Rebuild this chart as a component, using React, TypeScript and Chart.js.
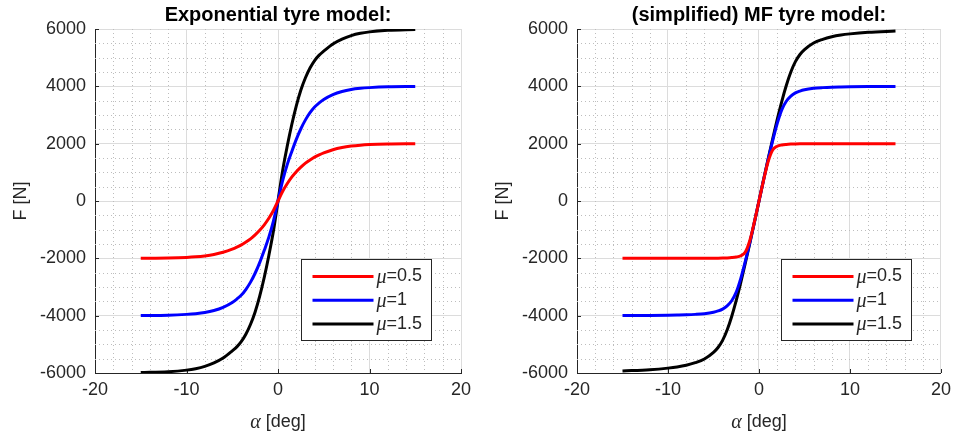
import React, { useEffect, useRef } from "react";
import { Chart, registerables } from "chart.js";

Chart.register(...registerables);

// slip angle samples [deg]
const ALPHA = [-15, -12, -10, -9, -8, -7, -6, -5, -4.5, -4, -3.5, -3, -2.5, -2, -1.5, -1, -0.5, 0,
  0.5, 1, 1.5, 2, 2.5, 3, 3.5, 4, 4.5, 5, 6, 7, 8, 9, 10, 12, 15];

// Exponential tyre model
const EXP_MU05 = [-1998, -1988, -1968, -1948, -1915, -1865, -1790, -1680, -1610, -1530, -1430, -1320, -1180, -1020, -830, -600, -330, 0,
  330, 600, 830, 1020, 1180, 1320, 1430, 1530, 1610, 1680, 1790, 1865, 1915, 1948, 1968, 1988, 1998];
const EXP_MU1 = [-3997, -3985, -3955, -3930, -3890, -3820, -3710, -3540, -3420, -3280, -3080, -2830, -2520, -2150, -1720, -1260, -700, 0,
  700, 1260, 1720, 2150, 2520, 2830, 3080, 3280, 3420, 3540, 3710, 3820, 3890, 3930, 3955, 3985, 3997];
const EXP_MU15 = [-5985, -5955, -5900, -5850, -5770, -5650, -5480, -5230, -5090, -4900, -4640, -4300, -3870, -3320, -2660, -1900, -1050, 0,
  1050, 1900, 2660, 3320, 3870, 4300, 4640, 4900, 5090, 5230, 5480, 5650, 5770, 5850, 5900, 5955, 5985];

// (simplified) MF tyre model
const MF_MU05 = [-2000, -2000, -2000, -2000, -1999, -1998, -1997, -1995, -1993, -1990, -1985, -1975, -1955, -1910, -1780, -1370, -720, 0,
  720, 1370, 1780, 1910, 1955, 1975, 1985, 1990, 1993, 1995, 1997, 1998, 1999, 2000, 2000, 2000, 2000];
const MF_MU1 = [-3997, -3992, -3984, -3978, -3970, -3955, -3930, -3880, -3835, -3770, -3660, -3480, -3180, -2700, -2100, -1440, -730, 0,
  730, 1440, 2100, 2700, 3180, 3480, 3660, 3770, 3835, 3880, 3930, 3955, 3970, 3978, 3984, 3992, 3997];
const MF_MU15 = [-5930, -5885, -5830, -5790, -5730, -5640, -5510, -5280, -5110, -4860, -4500, -4030, -3470, -2840, -2160, -1460, -740, 0,
  740, 1460, 2160, 2840, 3470, 4030, 4500, 4860, 5110, 5280, 5510, 5640, 5730, 5790, 5830, 5885, 5930];

const MU_LABELS = ["0.5", "1", "1.5"];
const COLORS = ["#ff0000", "#0000ff", "#000000"];
const TITLES = ["Exponential tyre model:", "(simplified) MF tyre model:"];

const X_MIN = -20, X_MAX = 20, X_MAJOR = 10, X_MINOR = 2;
const Y_MIN = -6000, Y_MAX = 6000, Y_MAJOR = 2000, Y_MINOR = 500;

const SANS = '"Liberation Sans", Arial, sans-serif';
const AX = "#262626";

function makeDecor(title: string) {
  return {
    id: "decor",
    beforeDatasetsDraw(chart: any) {
      const { ctx, chartArea: ca, scales } = chart;
      const x = scales.x, y = scales.y;
      ctx.save();
      ctx.lineWidth = 1;
      ctx.strokeStyle = "#bdbdbd";
      ctx.setLineDash([1, 3]);
      for (let v = X_MIN; v <= X_MAX; v += X_MINOR) {
        if (v % X_MAJOR === 0) continue;
        const px = Math.round(x.getPixelForValue(v)) + 0.5;
        ctx.beginPath(); ctx.moveTo(px, ca.top); ctx.lineTo(px, ca.bottom); ctx.stroke();
      }
      for (let v = Y_MIN; v <= Y_MAX; v += Y_MINOR) {
        if (v % Y_MAJOR === 0) continue;
        const py = Math.round(y.getPixelForValue(v)) + 0.5;
        ctx.beginPath(); ctx.moveTo(ca.left, py); ctx.lineTo(ca.right, py); ctx.stroke();
      }
      ctx.setLineDash([]);
      ctx.strokeStyle = AX;
      for (let v = X_MIN; v <= X_MAX; v += X_MAJOR) {
        const px = Math.round(x.getPixelForValue(v)) + 0.5;
        ctx.beginPath(); ctx.moveTo(px, ca.bottom); ctx.lineTo(px, ca.bottom - 4); ctx.stroke();
      }
      for (let v = Y_MIN; v <= Y_MAX; v += Y_MAJOR) {
        const py = Math.round(y.getPixelForValue(v)) + 0.5;
        ctx.beginPath(); ctx.moveTo(ca.left, py); ctx.lineTo(ca.left + 4, py); ctx.stroke();
      }
      ctx.restore();
    },
    afterDraw(chart: any) {
      const { ctx, chartArea: ca } = chart;
      const cx = (ca.left + ca.right) / 2;
      ctx.save();
      // title
      ctx.fillStyle = "#000";
      ctx.textAlign = "center";
      ctx.textBaseline = "middle";
      ctx.font = `bold 20px ${SANS}`;
      ctx.fillText(title, cx, 15);
      // x-axis label
      ctx.textAlign = "left";
      ctx.fillStyle = AX;
      ctx.font = 'italic 20px "Liberation Serif"';
      const w1 = ctx.measureText("α").width;
      ctx.font = `18px ${SANS}`;
      const w2 = ctx.measureText(" [deg]").width;
      const sx = cx - (w1 + w2) / 2;
      ctx.font = 'italic 20px "Liberation Serif"';
      ctx.fillText("α", sx, 423);
      ctx.font = `18px ${SANS}`;
      ctx.fillText(" [deg]", sx + w1, 422);
      // legend
      const bw = 130, bh = 81;
      const bx = Math.round(ca.right - 30 - bw) + 0.5;
      const by = Math.round(ca.bottom - 33 - bh) + 0.5;
      ctx.fillStyle = "#fff";
      ctx.fillRect(bx, by, bw, bh);
      ctx.strokeStyle = AX;
      ctx.lineWidth = 1;
      ctx.strokeRect(bx, by, bw, bh);
      chart.data.datasets.forEach((ds: any, i: number) => {
        const ry = by + 17 + i * 23.8;
        ctx.strokeStyle = ds.borderColor;
        ctx.lineWidth = 3;
        ctx.beginPath(); ctx.moveTo(bx + 11, ry); ctx.lineTo(bx + 72, ry); ctx.stroke();
        ctx.fillStyle = AX;
        ctx.font = 'italic 20px "Liberation Serif"';
        ctx.fillText("μ", bx + 75, ry + 1);
        const mw = ctx.measureText("μ").width;
        ctx.font = `18px ${SANS}`;
        ctx.fillText("=" + ds.label, bx + 75 + mw, ry);
      });
      ctx.restore();
    },
  };
}

function Panel(props: { idx: number; series: number[][]; left: number; width: number; padLeft: number; padRight: number }) {
  const ref = useRef<HTMLCanvasElement>(null);
  useEffect(() => {
    const chart = new Chart(ref.current as HTMLCanvasElement, {
      type: "scatter",
      data: {
        datasets: props.series.map((vals, i) => ({
          label: MU_LABELS[i],
          data: ALPHA.map((a, j) => ({ x: a, y: vals[j] })),
          borderColor: COLORS[i],
          backgroundColor: COLORS[i],
          borderWidth: 3,
          showLine: true,
          pointRadius: 0,
          pointHoverRadius: 0,
          cubicInterpolationMode: "monotone",
          fill: false,
        })),
      },
      options: {
        responsive: false,
        animation: false,
        devicePixelRatio: 1,
        events: [],
        layout: { padding: { left: props.padLeft, right: props.padRight, top: 29, bottom: 0 } },
        plugins: { legend: { display: false }, tooltip: { enabled: false }, title: { display: false } },
        scales: {
          x: {
            type: "linear",
            position: "bottom",
            min: X_MIN,
            max: X_MAX,
            ticks: { stepSize: X_MAJOR, color: AX, font: { family: SANS, size: 18 }, padding: 6, maxRotation: 0, autoSkip: false,
              callback: (v: any) => String(v) },
            grid: { color: "#dcdcdc", drawTicks: false, lineWidth: 1 },
            border: { display: true, color: AX, width: 1 },
            afterFit: (s: any) => { s.height = 66; },
          },
          y: {
            type: "linear",
            position: "left",
            min: Y_MIN,
            max: Y_MAX,
            ticks: { stepSize: Y_MAJOR, color: AX, font: { family: SANS, size: 18 }, padding: 9, autoSkip: false,
              callback: (v: any) => String(v) },
            grid: { color: "#dcdcdc", drawTicks: false, lineWidth: 1 },
            border: { display: true, color: AX, width: 1 },
            title: { display: true, text: "F [N]", color: AX, font: { family: SANS, size: 18 }, padding: { top: 10, bottom: 0 } },
            afterFit: (s: any) => { s.width = 95; },
          },
        },
      } as any,
      plugins: [makeDecor(TITLES[props.idx])],
    });
    return () => chart.destroy();
  }, []);
  return (
    <canvas
      ref={ref}
      width={props.width}
      height={439}
      style={{ position: "absolute", left: props.left, top: 0, width: props.width, height: 439 }}
    />
  );
}

export default function App() {
  return (
    <div style={{ position: "absolute", left: 0, top: 0, width: 957, height: 439, background: "#fff" }}>
      <Panel idx={0} series={[EXP_MU05, EXP_MU1, EXP_MU15]} left={0} width={478} padLeft={0} padRight={17} />
      <Panel idx={1} series={[MF_MU05, MF_MU1, MF_MU15]} left={478} width={479} padLeft={4} padRight={14} />
    </div>
  );
}
